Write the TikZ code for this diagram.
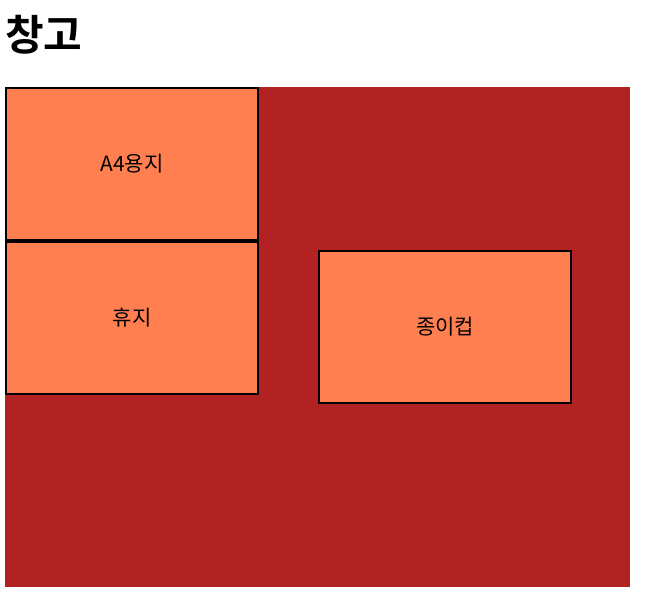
\documentclass[tikz,border=0pt]{standalone}
\usepackage{fontspec}
\setmainfont{Noto Sans CJK KR}
\newfontfamily\titlefont{Noto Sans CJK KR Bold}
\definecolor{storage}{HTML}{B22222}
\definecolor{item}{HTML}{FF7F50}
\begin{document}
\begin{tikzpicture}
  [x=1pt,y=-1pt,every node/.style={inner sep=0pt}]
  \tikzstyle{box} = [draw=black,line width=2pt,fill=item,minimum width=252pt,minimum height=152pt,font=\fontsize{21}{24}\selectfont]
  \useasboundingbox (0,0) rectangle (648,614);
  \node[anchor=west,font=\titlefont\fontsize{42}{46}\selectfont] (title) at (5,35) {창고};
  \fill[storage] (5,87) rectangle (630,587);
  \node[box] (a4) at (132,164) {A4용지};
  \node[box] (tissue) at (132,318) {휴지};
  \node[box] (cup) at (445,327) {종이컵};
\end{tikzpicture}
\end{document}
